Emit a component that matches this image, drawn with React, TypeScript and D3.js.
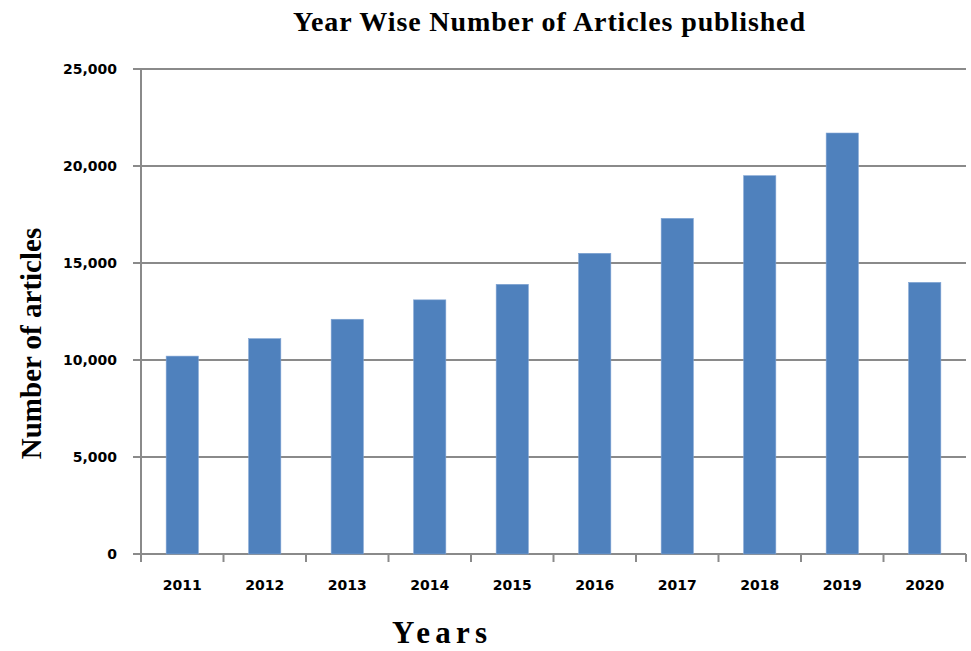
import React, { useEffect, useRef } from "react";
import * as d3 from "d3";

const years = ["2011", "2012", "2013", "2014", "2015", "2016", "2017", "2018", "2019", "2020"];
const articles = [10200, 11100, 12100, 13100, 13900, 15500, 17300, 19500, 21700, 14000];
const yTicks = [0, 5000, 10000, 15000, 20000, 25000];

const width = 971;
const height = 651;
const margin = { top: 69, right: 5, bottom: 97, left: 141 };

const App = () => {
  const ref = useRef<SVGSVGElement>(null);

  useEffect(() => {
    const svg = d3.select(ref.current);
    svg.selectAll("*").remove();

    const x = d3.scaleBand()
      .domain(years)
      .range([margin.left, width - margin.right])
      .paddingInner(0.61)
      .paddingOuter(0.305);

    const y = d3.scaleLinear()
      .domain([0, 25000])
      .range([height - margin.bottom, margin.top]);

    const grey = "#8a8a8a";

    // gridlines
    svg.append("g")
      .selectAll("line")
      .data(yTicks)
      .enter().append("line")
      .attr("x1", margin.left - 8)
      .attr("x2", width - margin.right)
      .attr("y1", d => y(d))
      .attr("y2", d => y(d))
      .attr("stroke", grey)
      .attr("stroke-width", 2);

    // bars
    svg.append("g")
      .selectAll("rect")
      .data(articles)
      .enter().append("rect")
      .attr("x", (d, i) => x(years[i])!)
      .attr("y", d => y(d))
      .attr("width", x.bandwidth())
      .attr("height", d => y(0) - y(d))
      .attr("fill", "#4f81bd")
      .attr("stroke", "#7fa3d3")
      .attr("stroke-width", 0.6);

    // y axis line
    svg.append("line")
      .attr("x1", margin.left).attr("x2", margin.left)
      .attr("y1", y(25000)).attr("y2", y(0) + 8)
      .attr("stroke", grey).attr("stroke-width", 2);

    // x axis ticks at band edges
    const step = x.step();
    const edges = years.map((d, i) => margin.left + i * step).concat([width - margin.right]);
    svg.append("g")
      .selectAll("line")
      .data(edges.slice(1))
      .enter().append("line")
      .attr("x1", d => d).attr("x2", d => d)
      .attr("y1", y(0)).attr("y2", y(0) + 8)
      .attr("stroke", grey).attr("stroke-width", 2);

    // y tick labels
    svg.append("g")
      .selectAll("text")
      .data(yTicks)
      .enter().append("text")
      .attr("x", margin.left - 24)
      .attr("y", d => y(d))
      .attr("dy", "0.35em")
      .attr("text-anchor", "end")
      .style("font-family", "DejaVu Sans")
      .style("font-size", "14px")
      .style("font-weight", "bold")
      .text(d => d3.format(",")(d));

    // x tick labels
    svg.append("g")
      .selectAll("text")
      .data(years)
      .enter().append("text")
      .attr("x", d => x(d)! + x.bandwidth() / 2)
      .attr("y", 590)
      .attr("text-anchor", "middle")
      .style("font-family", "DejaVu Sans")
      .style("font-size", "14px")
      .style("font-weight", "bold")
      .text(d => d);

    // title
    svg.append("text")
      .attr("x", 549)
      .attr("y", 31)
      .attr("text-anchor", "middle")
      .attr("textLength", 512)
      .attr("lengthAdjust", "spacing")
      .style("font-family", "Liberation Serif")
      .style("font-size", "28px")
      .style("font-weight", "bold")
      .text("Year Wise Number of Articles published");

    // axis titles
    svg.append("text")
      .attr("x", 439.5)
      .attr("y", 643)
      .attr("text-anchor", "middle")
      .attr("textLength", 95)
      .attr("lengthAdjust", "spacing")
      .style("font-family", "Liberation Serif")
      .style("font-size", "31px")
      .style("font-weight", "bold")
      .text("Years");

    svg.append("text")
      .attr("transform", "translate(41,343.5) rotate(-90)")
      .attr("text-anchor", "middle")
      .style("font-family", "Liberation Serif")
      .style("font-size", "29px")
      .style("font-weight", "bold")
      .text("Number of articles");
  }, []);

  return (
    <svg
      ref={ref}
      width={width}
      height={height}
      style={{ position: "absolute", left: 0, top: 0, background: "#fff" }}
    ></svg>
  );
};

export default App;
